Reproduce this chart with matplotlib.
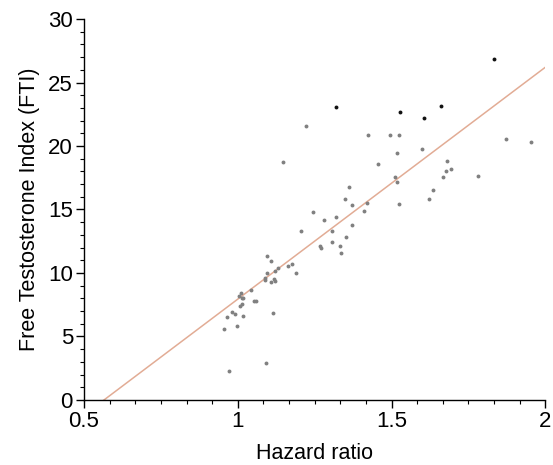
import matplotlib
matplotlib.use("Agg")
import matplotlib.pyplot as plt
from matplotlib.ticker import MultipleLocator
import numpy as np

plt.rcParams['font.family'] = ['Liberation Sans', 'DejaVu Sans']

# hazard ratio vs FTI, grey points
hr_grey = [0.970, 1.092, 0.956, 0.996, 0.966, 1.017, 0.981, 0.992, 1.115, 1.007,
           1.013, 1.013, 1.018, 1.005, 1.010, 1.042, 1.052, 1.060, 1.087, 1.089,
           1.108, 1.117, 1.121, 1.096, 1.122, 1.132, 1.162, 1.176, 1.188, 1.096,
           1.108, 1.205, 1.147, 1.222, 1.244, 1.268, 1.272, 1.280, 1.305, 1.305,
           1.320, 1.334, 1.337, 1.353, 1.349, 1.363, 1.370, 1.373, 1.410, 1.420,
           1.424, 1.457, 1.496, 1.525, 1.510, 1.518, 1.518, 1.525, 1.600, 1.622,
           1.636, 1.669, 1.677, 1.680, 1.694, 1.781, 1.871, 1.954]
fti_grey = [2.28, 2.89, 5.57, 5.83, 6.51, 6.61, 6.95, 6.77, 6.87, 7.40,
            7.56, 8.01, 8.01, 8.19, 8.45, 8.64, 7.82, 7.82, 9.58, 9.45,
            9.31, 9.50, 9.39, 10.02, 10.18, 10.37, 10.55, 10.71, 10.02, 11.34,
            10.97, 13.33, 18.76, 21.57, 14.80, 12.15, 11.97, 14.21, 13.33, 12.40,
            14.39, 12.13, 11.60, 12.81, 15.80, 16.75, 13.76, 15.35, 14.91, 15.53,
            20.87, 18.58, 20.87, 20.87, 17.54, 17.17, 19.45, 15.43, 19.80, 15.85,
            16.57, 17.54, 18.06, 18.83, 18.21, 17.61, 20.57, 20.31]

# darker points
hr_black = [1.320, 1.526, 1.604, 1.662, 1.832]
fti_black = [23.05, 22.65, 22.24, 23.19, 26.87]

# fitted line
fit_slope = 18.26
fit_intercept = -10.32

fig = plt.figure(figsize=(5.53, 4.65), dpi=100)
ax = fig.add_axes([0.152, 0.140, 0.834, 0.819])

xs = np.array([0.5, 2.0])
ax.plot(xs, fit_slope * xs + fit_intercept, color='#e2ac95', linewidth=1.1, zorder=1)

ax.plot(hr_grey, fti_grey, 'o', color='#808080', markersize=2.8, markeredgewidth=0, zorder=2)
ax.plot(hr_black, fti_black, 'o', color='#111111', markersize=2.8, markeredgewidth=0, zorder=2)

ax.set_xlim(0.5, 2)
ax.set_ylim(0, 30)
ax.xaxis.set_minor_locator(MultipleLocator(0.5 / 6))
ax.yaxis.set_major_locator(MultipleLocator(5))
ax.yaxis.set_minor_locator(MultipleLocator(1))
ax.set_xticks([0.5, 1, 1.5, 2])
ax.set_xticklabels(['0.5', '1', '1.5', '2'])

for s in ['top', 'right']:
    ax.spines[s].set_visible(False)
for s in ['left', 'bottom']:
    ax.spines[s].set_linewidth(1.0)

ax.tick_params(axis='both', which='major', direction='out', length=6, width=1, labelsize=16, pad=2)
ax.tick_params(axis='both', which='minor', direction='out', length=3, width=0.8)

ax.set_xlabel("Hazard ratio", fontsize=15.5, labelpad=8)
ax.set_ylabel("Free Testosterone Index (FTI)", fontsize=15.5, labelpad=6)

fig.savefig("out.png", dpi=100)
